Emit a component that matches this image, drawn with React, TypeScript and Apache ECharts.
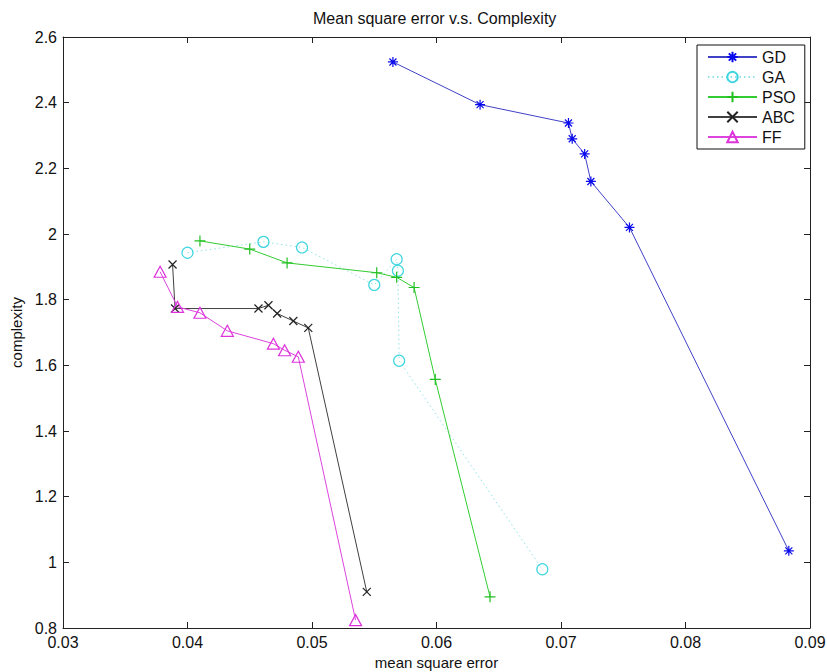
import React, { useEffect, useRef } from "react";
import * as echarts from "echarts";

const xTicks = [0.03, 0.04, 0.05, 0.06, 0.07, 0.08, 0.09];
const yTicks = [0.8, 1.0, 1.2, 1.4, 1.6, 1.8, 2.0, 2.2, 2.4, 2.6];
const xStep = 0.01;
const yStep = 0.2;

const seriesNames = ["GD", "GA", "PSO", "ABC", "FF"];

const gdX = [0.0565, 0.0635, 0.0706, 0.0709, 0.0719, 0.0724, 0.0755, 0.0883];
const gdY = [2.524, 2.394, 2.338, 2.29, 2.244, 2.16, 2.02, 1.035];

const gaX = [0.04, 0.0461, 0.0492, 0.055, 0.0568, 0.0569, 0.057, 0.0685];
const gaY = [1.943, 1.976, 1.959, 1.845, 1.923, 1.888, 1.614, 0.979];

const psoX = [0.041, 0.045, 0.048, 0.0552, 0.0568, 0.0582, 0.0599, 0.0643];
const psoY = [1.979, 1.954, 1.912, 1.882, 1.868, 1.837, 1.557, 0.895];

const abcX = [0.0388, 0.039, 0.0457, 0.0465, 0.0472, 0.0485, 0.0497, 0.0544];
const abcY = [1.907, 1.773, 1.773, 1.783, 1.758, 1.735, 1.714, 0.91];

const ffX = [0.0378, 0.0392, 0.041, 0.0432, 0.0469, 0.0478, 0.0489, 0.0535];
const ffY = [1.885, 1.778, 1.76, 1.705, 1.666, 1.646, 1.626, 0.824];

const FONT = "'Liberation Sans', Arial, Helvetica, sans-serif";

const STAR = "path://M0,-1L0,1M-1,0L1,0M-0.7,-0.7L0.7,0.7M-0.7,0.7L0.7,-0.7";
const PLUS = "path://M0,-1L0,1M-1,0L1,0";
const CROSS = "path://M-1,-1L1,1M-1,1L1,-1";

function zip(xs: number[], ys: number[]) {
  return xs.map((x, i) => [x, ys[i]]);
}

export default function App() {
  const ref = useRef<HTMLDivElement>(null);
  useEffect(() => {
    if (!ref.current) return;
    const chart = echarts.init(ref.current, undefined, { renderer: "svg" });
    const axisCommon = {
      type: "value" as const,
      axisLine: { show: true, onZero: false, lineStyle: { color: "#222", width: 1 } },
      axisTick: { show: true, inside: true, length: 6, lineStyle: { color: "#222" } },
      splitLine: { show: false },
    };
    const mk = (
      name: string,
      xs: number[],
      ys: number[],
      lineColor: string,
      markColor: string,
      symbol: string,
      size: number | number[],
      dash: any = "solid"
    ) => ({
      name,
      type: "line",
      data: zip(xs, ys),
      symbol,
      symbolSize: size,
      showAllSymbol: true,
      lineStyle: { color: lineColor, width: 1, type: dash },
      itemStyle: { color: "transparent", borderColor: markColor, borderWidth: 1.2 },
      emphasis: { disabled: true },
      z: 2,
    });
    chart.setOption({
      animation: false,
      backgroundColor: "#fff",
      textStyle: { fontFamily: FONT },
      title: {
        text: "Mean square error v.s. Complexity",
        left: 313,
        top: 10,
        padding: 0,
        textStyle: { fontFamily: FONT, fontSize: 16, fontWeight: "normal", color: "#111" },
      },
      grid: {
        left: 63,
        right: 17,
        top: 37,
        bottom: 44,
        containLabel: false,
        outerBoundsMode: "none",
        show: false,
      },
      legend: {
        data: seriesNames,
        orient: "vertical",
        left: 697,
        top: 45,
        padding: [4, 9, 4, 10],
        itemWidth: 49,
        itemHeight: 13,
        itemGap: 4,
        backgroundColor: "#fff",
        borderColor: "#111",
        borderWidth: 1,
        borderRadius: 0,
        textStyle: { fontFamily: FONT, fontSize: 16, color: "#111" },
        selectedMode: false,
        z: 10,
      },
      xAxis: [
        {
          ...axisCommon,
          position: "bottom",
          min: xTicks[0],
          max: xTicks[xTicks.length - 1],
          interval: xStep,
          name: "mean square error",
          nameLocation: "middle",
          nameGap: 26,
          nameTextStyle: { fontFamily: FONT, fontSize: 15, color: "#111" },
          axisLabel: {
            margin: 6,
            fontFamily: FONT,
            fontSize: 16,
            color: "#111",
            formatter: (v: number) => v.toFixed(2),
          },
        },
        {
          ...axisCommon,
          position: "top",
          min: xTicks[0],
          max: xTicks[xTicks.length - 1],
          interval: xStep,
          axisLabel: { show: false },
        },
      ],
      yAxis: [
        {
          ...axisCommon,
          position: "left",
          min: yTicks[0],
          max: yTicks[yTicks.length - 1],
          interval: yStep,
          name: "complexity",
          nameLocation: "middle",
          nameGap: 35,
          nameTextStyle: { fontFamily: FONT, fontSize: 15, color: "#111" },
          axisLabel: {
            margin: 6,
            fontFamily: FONT,
            fontSize: 16,
            color: "#111",
            formatter: (v: number) => String(Number(v.toFixed(1))),
          },
        },
        {
          ...axisCommon,
          position: "right",
          min: yTicks[0],
          max: yTicks[yTicks.length - 1],
          interval: yStep,
          axisLabel: { show: false },
        },
      ],
      series: [
        mk(seriesNames[0], gdX, gdY, "#4141c8", "#0a0aee", STAR, 10),
        mk(seriesNames[1], gaX, gaY, "#8fe3e8", "#3fd6e0", "circle", 11, [1.5, 3]),
        mk(seriesNames[2], psoX, psoY, "#33cc33", "#22c022", PLUS, 11),
        mk(seriesNames[3], abcX, abcY, "#404040", "#222222", CROSS, 8),
        mk(seriesNames[4], ffX, ffY, "#dd44dd", "#dd33dd", "triangle", [12, 11]),
      ],
    });
    return () => chart.dispose();
  }, []);
  return (
    <div
      ref={ref}
      style={{ position: "absolute", left: 0, top: 0, width: 827, height: 672 }}
    />
  );
}
